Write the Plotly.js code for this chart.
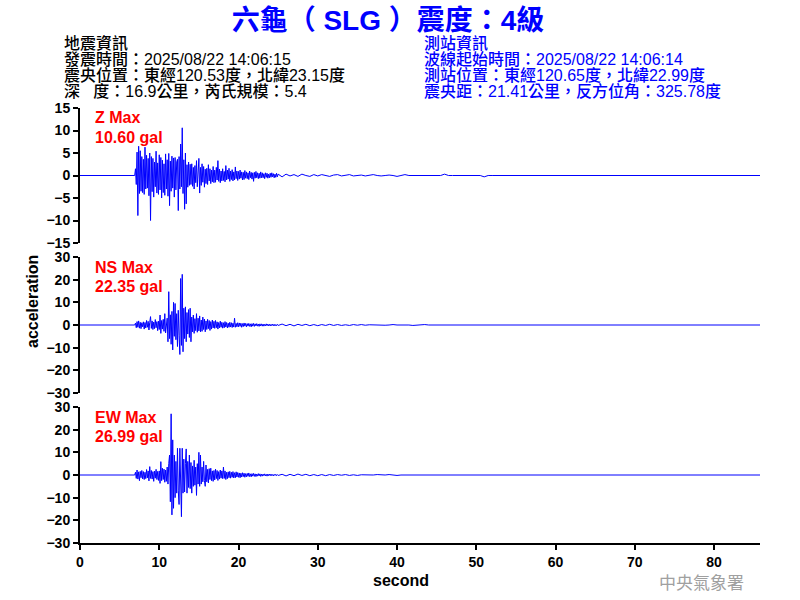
<!DOCTYPE html>
<html><head><meta charset="utf-8">
<script src="https://cdn.plot.ly/plotly-3.0.1.min.js"></script>
<style>html,body{margin:0;padding:0;background:#fff}#chart{width:800px;height:600px}</style>
</head><body><div id="chart"></div>
<script>
// ---- data ----
const startTime = 6.9;      // onset of the recorded motion (s)
const activeStep = 0.1;     // sample step of the strong-motion part (s)
const tailStart = 25.5;
const tailStep = 0.5;
const traceEnd = 85.8;

const zActive = [0,
 1.5,-2.0,5.2,-8.9,6.5,-4.0,5.5,-3.5,4.2,-3.8,
 3.6,-4.2,6.3,-3.0,4.5,-2.8,3.8,-4.5,5.0,-10.0,
 4.2,-3.6,3.8,-4.8,3.0,-2.5,5.4,-3.9,2.8,-4.2,
 4.6,-3.2,4.0,-5.0,3.4,-3.8,2.6,-4.4,4.8,-3.0,
 3.5,-4.6,4.9,-6.7,3.2,-3.5,4.3,-2.8,3.9,-4.8,
 4.0,-3.2,3.0,3.6,-7.8,4.2,-3.0,7.0,-2.5,10.6,
 -4.0,3.5,-7.5,5.0,-6.3,2.4,-2.6,3.0,-2.2,2.5,
 -2.0,2.6,-2.4,1.8,-3.0,2.2,-1.6,3.3,-2.5,2.0,
 3.8,-3.9,1.8,-2.2,2.6,-1.5,2.0,-2.6,1.4,-1.8,
 1.6,-2.0,2.4,-1.2,1.5,-1.8,1.2,-1.4,2.0,-1.6,
 1.2,-1.5,1.8,-1.0,3.3,-1.3,1.4,-1.6,1.0,-1.2,
 1.5,-1.1,0.9,-1.4,2.2,-1.0,1.2,-0.8,1.6,-1.3,
 1.0,-0.9,1.3,-1.2,0.8,-1.0,1.9,-0.7,1.0,-1.1,
 0.9,-0.8,1.2,-0.6,0.8,-1.0,0.7,-0.9,1.1,-0.6,
 0.8,-0.7,0.6,-0.9,1.0,-0.5,0.7,-0.8,0.6,-1.3,
 0.7,-0.6,0.9,-0.5,0.6,-0.7,0.5,-0.6,0.8,-0.5,
 0.6,-0.5,0.4,-0.7,0.6,-0.4,0.5,-0.6,0.3,-0.5,
 0.5,-0.4,0.6,-0.3,0.4,-0.5,0.3,-0.4,0.5,-0.3,0.3];
const zTail = [
 -0.3,0.3,-0.1,0.2,-0.2,0.3,0,-0.2,0.2,-0.1,
 0.2,0,-0.2,0.1,0.2,-0.1,0,0.2,-0.1,0,
 0.1,-0.1,0,0.2,0,-0.1,0,0.1,0,-0.2,
 0,0.2,0,0,0,0,0,0,0,0,
 0,0.3,0,0,0,0,0,0,0,0,
 0,-0.3,0,0];

const nsActive = [0,
 0.8,-1.2,1.5,-1.0,1.8,-1.4,1.2,-1.6,1.0,-0.8,
 1.4,-1.8,1.1,-1.3,2.0,-1.0,1.6,-2.2,1.2,3.7,
 -1.5,1.8,-2.0,1.3,-1.6,2.4,-1.2,1.5,-2.5,1.7,
 -2.0,4.4,-3.7,2.0,-1.8,2.5,-2.8,5.0,-3.5,2.2,
 3.0,-7.4,14.7,-6.0,4.5,-8.5,6.0,-11.0,10.0,-5.0,
 9.5,-6.5,5.0,-9.5,6.5,-4.5,-13.0,20.5,-9.0,22.35,
 -11.8,7.4,-6.0,8.0,-7.4,5.5,-4.0,6.8,-5.5,7.4,
 -7.4,3.5,-3.0,4.4,-3.7,2.8,-2.5,5.0,-3.2,3.0,
 -2.6,4.0,-3.0,2.2,-2.8,3.5,-2.0,2.6,-3.0,1.8,
 -2.0,2.5,-1.6,2.0,-2.4,1.5,-1.8,2.2,-1.3,1.6,
 -1.5,2.0,-1.2,1.4,-1.8,1.1,-1.3,1.7,-1.0,1.2,
 -1.4,1.0,-1.2,1.5,-0.9,1.1,-1.3,0.8,-1.0,1.2,
 -0.9,1.0,-1.1,0.8,-0.9,3.0,-1.0,0.7,-0.8,1.0,
 -0.8,0.9,-0.6,0.8,-1.0,0.6,-0.7,0.9,-0.5,0.7,
 -0.8,0.6,-0.5,0.7,-0.6,0.5,-0.8,0.6,-0.5,0.7,
 -0.6,0.5,-0.4,0.6,-0.5,0.4,-0.6,0.5,-0.4,0.5,
 -0.5,0.4,-0.5,0.3,-0.4,0.5,-0.3,0.4,-0.4,0.3,
 -0.4,0.3,-0.3,0.4,-0.3,0.3,-0.4,0.2,-0.3,0.3,-0.2];
const nsTail = [
 0.4,-0.3,0.3,-0.4,0.3,-0.2,0.3,-0.3,0.2,-0.3,
 0.2,-0.2,0.3,-0.2,0.2,-0.2,0.1,-0.2,0.2,-0.1,
 0.2,-0.1,0.1,0,0.2,0,-0.1,0,0.2,0,
 0,0.2,0,-0.2,0,0,0.2,0,0,0,
 0,0,0.2,0,0,0,0,0,0,0,
 0,0,0,0];

const ewActive = [0,
 1.2,-1.5,2.2,-1.8,1.4,-2.5,1.6,-1.2,2.0,-1.7,
 1.5,-2.0,1.2,-1.6,2.4,-1.3,1.8,-2.6,3.7,-1.5,
 2.0,-1.8,1.5,-2.8,1.7,-1.4,2.5,-2.0,1.6,-2.4,
 1.8,-3.7,5.9,-2.5,3.0,-2.0,2.6,-3.2,2.2,-2.8,
 3.5,-4.0,5.0,8.8,-11.8,26.99,-17.6,15.5,-14.7,8.8,
 -10.0,6.0,-8.0,11.8,-7.0,-13.0,11.8,-6.0,-18.4,11.8,
 -8.0,7.0,-7.5,5.0,11.5,-8.0,6.0,-5.5,8.8,-6.0,
 5.5,-8.0,4.0,-5.0,6.5,-4.5,3.5,-9.0,5.0,-4.0,
 10.0,-5.0,8.8,-4.0,3.5,-3.0,6.0,-2.5,-5.0,4.4,
 -3.0,2.5,-3.5,2.8,-2.0,3.0,-2.5,1.8,-2.8,2.0,
 -2.2,2.6,-1.6,2.0,-2.4,1.5,-1.8,2.2,-1.4,1.8,
 -1.6,3.5,-1.5,1.8,-2.0,1.2,-1.6,1.4,-1.2,1.6,
 -1.4,1.2,-1.0,1.5,-1.3,1.0,-1.2,1.4,-0.9,1.1,
 -1.0,0.9,-1.2,0.8,-0.9,1.0,-0.7,0.8,-1.0,0.6,
 -0.8,0.7,-0.6,0.9,-0.7,0.5,-0.8,0.6,-0.5,0.7,
 -0.6,0.5,-0.7,0.4,-0.5,0.6,-0.4,0.5,-0.6,0.4,
 -0.5,0.4,-0.3,0.5,-0.4,0.3,-0.5,0.4,-0.3,0.4,
 -0.3,0.4,-0.3,0.2,-0.4,0.3,-0.2,0.3,-0.3,0.2,-0.2];
const ewTail = [
 0.3,-0.4,0.3,-0.3,0.4,-0.2,0.3,-0.3,0.2,-0.3,
 0.2,-0.3,0.2,-0.2,0.2,-0.1,0.2,-0.2,0.1,-0.2,
 0.1,0,-0.2,0,0.2,0,0,0.2,0,-0.2,
 0,0,0.2,0,0,0,0.2,0,0,0,
 0,0,0,0,0,0,0,0,0.2,0,
 0,0,0,0];

const components = ['Z', 'NS', 'EW'];
const maxValues = ['10.60', '22.35', '26.99'];
const yRanges = [[-15, 15], [-30, 30], [-30, 30]];
const yDticks = [5, 10, 10];
const xTickVals = [0, 10, 20, 30, 40, 50, 60, 70, 80];

const titleText = '六龜（ SLG ）震度：4級';
const quakeInfo = ['地震資訊', '發震時間：2025/08/22 14:06:15', '震央位置：東經120.53度，北緯23.15度', '深\u00a0\u00a0\u00a0度：16.9公里，芮氏規模：5.4'];
const stationInfo = ['測站資訊', '波線起始時間：2025/08/22 14:06:14', '測站位置：東經120.65度，北緯22.99度', '震央距：21.41公里，反方位角：325.78度'];
const agency = '中央氣象署';

// ---- build the time series ----
function build(active, tail) {
  const x = [0], y = [0];
  active.forEach((v, i) => { x.push(+(startTime + i * activeStep).toFixed(3)); y.push(v); });
  tail.forEach((v, i) => { x.push(+(tailStart + i * tailStep).toFixed(3)); y.push(v); });
  x.push(traceEnd); y.push(0);
  return {x, y};
}
const series = [build(zActive, zTail), build(nsActive, nsTail), build(ewActive, ewTail)];

// ---- geometry (pixels) ----
const W = 800, H = 600, L = 80, R = 40, T = 108, B = 57;
const plotW = W - L - R, plotH = H - T - B;
const px2x = p => (p - L) / plotW;
const px2y = p => (H - B - p) / plotH;
const panelPx = [[108, 243], [257, 393], [407, 543]];

const CJK = '"Noto Sans CJK TC", "Liberation Sans", sans-serif';
const MIX = '"Liberation Sans", "Noto Sans CJK TC", sans-serif';
const SANS = '"Liberation Sans", Arial, sans-serif';

const traces = series.map((s, i) => ({
  x: s.x, y: s.y, type: 'scatter', mode: 'lines',
  xaxis: i === 0 ? 'x' : 'x' + (i + 1), yaxis: i === 0 ? 'y' : 'y' + (i + 1),
  line: {color: '#0000ff', width: 1}, hoverinfo: 'skip', showlegend: false
}));

const layout = {
  width: W, height: H, margin: {l: L, r: R, t: T, b: B},
  paper_bgcolor: '#fff', plot_bgcolor: '#fff', showlegend: false,
  font: {family: SANS, color: '#000'},
  title: {text: titleText, font: {family: MIX, size: 28, color: '#0000ff', weight: 'bold'},
          xref: 'container', yref: 'container', x: 388 / W, y: 1 - 20 / H, xanchor: 'center', yanchor: 'middle'},
  annotations: []
};

const yAxisNames = ['yaxis', 'yaxis2', 'yaxis3'];
const xAxisNames = ['xaxis', 'xaxis2', 'xaxis3'];
for (let i = 0; i < 3; i++) {
  const [top, bot] = panelPx[i];
  layout[yAxisNames[i]] = {
    domain: [px2y(bot), px2y(top)], range: yRanges[i], dtick: yDticks[i], tick0: 0,
    showgrid: false, zeroline: false, showline: true, linecolor: '#000', linewidth: 2,
    ticks: 'outside', ticklen: 5, tickwidth: 2, tickcolor: '#000',
    tickfont: {family: SANS, size: 14, color: '#000', weight: 'bold'},
    anchor: i === 0 ? 'x' : 'x' + (i + 1), fixedrange: true
  };
  const last = i === 2;
  layout[xAxisNames[i]] = {
    domain: [0, 1], range: [0, traceEnd], anchor: i === 0 ? 'y' : 'y' + (i + 1),
    showgrid: false, zeroline: false, showline: last, linecolor: '#000', linewidth: 2,
    ticks: last ? 'outside' : '', ticklen: 5, tickwidth: 2, tickcolor: '#000',
    showticklabels: last, tickvals: xTickVals,
    tickfont: {family: SANS, size: 14, color: '#000', weight: 'bold'}, fixedrange: true
  };
  layout.annotations.push({
    xref: 'paper', yref: 'paper', x: px2x(93), y: px2y(top + 10), xanchor: 'left', yanchor: 'middle',
    text: components[i] + ' Max', showarrow: false,
    font: {family: SANS, size: 16, color: '#ff0000', weight: 'bold'}
  });
  layout.annotations.push({
    xref: 'paper', yref: 'paper', x: px2x(93), y: px2y(top + 29), xanchor: 'left', yanchor: 'middle',
    text: maxValues[i] + ' gal', showarrow: false,
    font: {family: SANS, size: 16, color: '#ff0000', weight: 'bold'}
  });
}

const infoY = [43, 59, 75, 91];
quakeInfo.forEach((t, k) => layout.annotations.push({
  xref: 'paper', yref: 'paper', x: px2x(63), y: px2y(infoY[k]), xanchor: 'left', yanchor: 'middle',
  text: t, showarrow: false, borderpad: 0,
  font: {family: MIX, size: 16, color: '#000', weight: 500}
}));
stationInfo.forEach((t, k) => layout.annotations.push({
  xref: 'paper', yref: 'paper', x: px2x(423), y: px2y(infoY[k]), xanchor: 'left', yanchor: 'middle',
  text: t, showarrow: false, borderpad: 0,
  font: {family: MIX, size: 16, color: '#0000ff', weight: 500}
}));

layout.annotations.push({
  xref: 'paper', yref: 'paper', x: px2x(32), y: px2y(302), xanchor: 'center', yanchor: 'middle',
  text: 'acceleration', textangle: -90, showarrow: false,
  font: {family: SANS, size: 16, color: '#000', weight: 'bold'}
});
layout.annotations.push({
  xref: 'paper', yref: 'paper', x: px2x(401), y: px2y(580), xanchor: 'center', yanchor: 'middle',
  text: 'second', showarrow: false, font: {family: SANS, size: 16, color: '#000', weight: 'bold'}
});
layout.annotations.push({
  xref: 'paper', yref: 'paper', x: px2x(746), y: px2y(581), xanchor: 'right', yanchor: 'middle',
  text: agency, showarrow: false, font: {family: CJK, size: 17, color: '#a0a0a0'}
});

Plotly.newPlot('chart', traces, layout, {staticPlot: true, displayModeBar: false});
</script>
</body></html>
